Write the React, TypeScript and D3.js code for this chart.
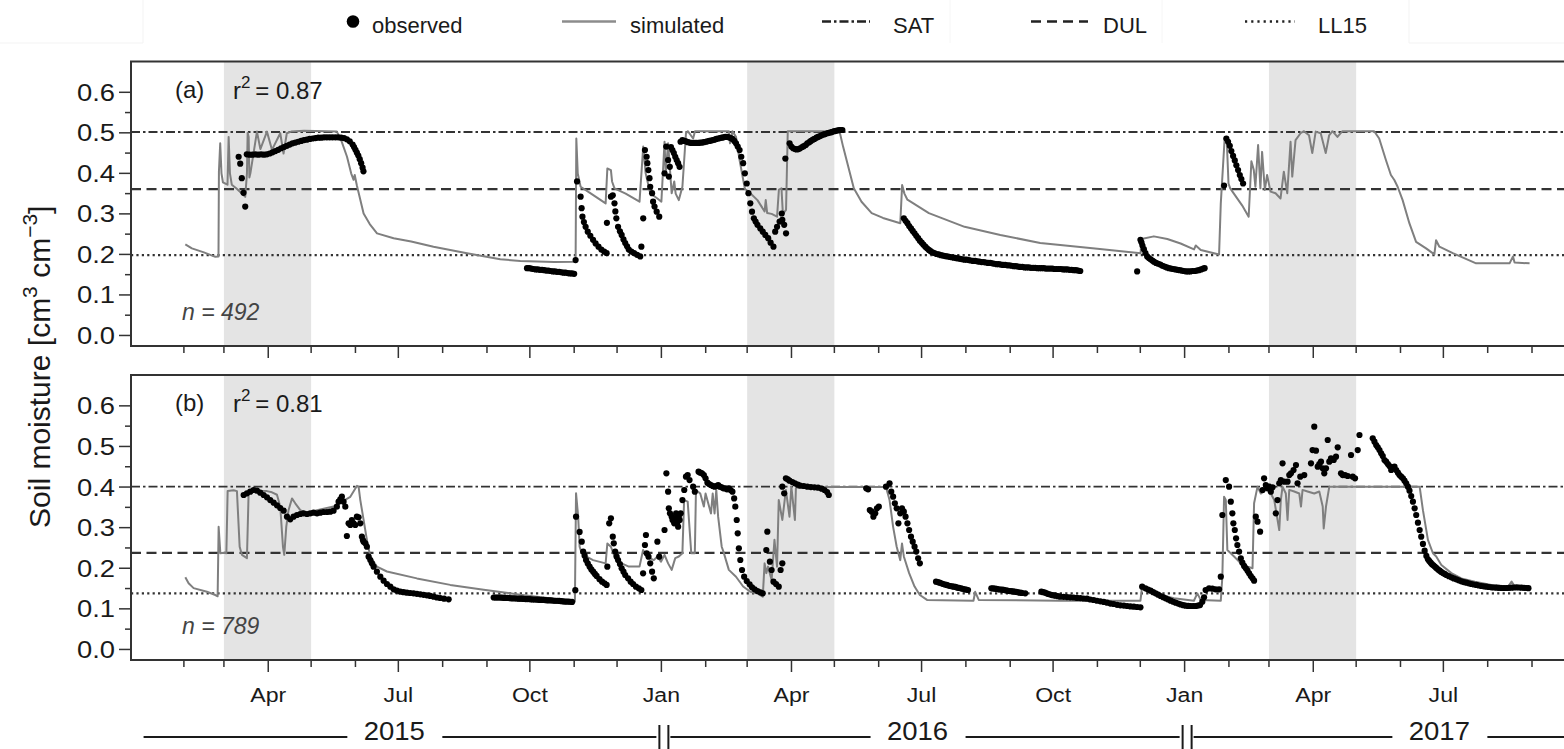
import React from 'react';
import * as d3 from 'd3';

const W = 1564;
const H = 749;
const FONT = "'Liberation Sans', Arial, Helvetica, sans-serif";
const DAY0 = Date.UTC(2015, 0, 1);
// every data "day" value = days since 2015-01-01
const toDate = (d: number) => new Date(DAY0 + d * 86400000);

const legendNames = ['observed', 'simulated', 'SAT', 'DUL', 'LL15'];
const panelLabels = ['(a)', '(b)'];
const r2Values = ['0.87', '0.81'];
const nValues = [492, 789];
const refA = [0.502, 0.361, 0.198]; // SAT, DUL, LL15
const refB = [0.401, 0.238, 0.138];
const shadeStart = ['2015-03-01', '2016-03-01', '2017-03-01'];
const shadeEnd = ['2015-05-01', '2016-05-01', '2017-05-01'];
const years = [2015, 2016, 2017];
const yMajor = [0, 0.1, 0.2, 0.3, 0.4, 0.5, 0.6];
const yMinor = [0.05, 0.15, 0.25, 0.35, 0.45, 0.55];

const simA: [number, number][] = [
  [32,0.225],[36.6,0.215],[45,0.205],[53,0.194],[55.2,0.195],[55.5,0.404],[56.4,0.474],[57.3,0.40],[58.3,0.378],[61.5,0.372],[62.3,0.49],[63.2,0.40],[64.5,0.372],[68,0.362],[73.9,0.342],[75.1,0.40],[75.6,0.50],[76.3,0.49],[76.8,0.39],[77.5,0.40],[82.1,0.503],[84.5,0.46],[89.1,0.503],[92.6,0.458],[98.4,0.499],[100.7,0.449],[103,0.499],[106,0.503],[115,0.505],[138,0.503],[141,0.482],[145.1,0.441],[148,0.40],[149.7,0.384],[150.5,0.396],[152,0.37],[156.7,0.301],[161,0.275],[166.1,0.252],[177.7,0.240],[190,0.232],[205.6,0.219],[229,0.203],[252.3,0.188],[266.3,0.184],[290,0.181],[305,0.182],
  [305.5,0.486],[306.5,0.40],[308.5,0.367],[315,0.352],[320,0.34],[326,0.326],[327.2,0.412],[329.7,0.408],[330.5,0.38],[332.2,0.363],[340,0.35],[349.7,0.33],[352.3,0.466],[354,0.40],[357.2,0.351],[362.2,0.338],[365,0.33],[367.2,0.478],[368,0.40],[369.7,0.474],[372.2,0.351],[374,0.38],[375,0.35],[377.2,0.334],[379.7,0.367],[382.2,0.499],[383.5,0.504],[387.2,0.486],[388.5,0.504],[412.2,0.504],[413,0.474],[414,0.49],[414.7,0.504],[417.2,0.49],[419.7,0.433],[423.4,0.362],[427.2,0.351],[432.2,0.334],[437.2,0.306],[438,0.334],[439,0.302],[442.1,0.30],[445.9,0.293],[447.2,0.36],[449,0.363],[450,0.30],[452.2,0.31],[453.4,0.504],[489.6,0.504],[492.1,0.466],[499.6,0.363],[505,0.33],[512.1,0.302],[520,0.29],[532.1,0.277],[533.4,0.371],[535,0.35],[537.1,0.335],[552.1,0.302],[577.1,0.268],[602.1,0.248],[630,0.228],[644,0.223],[670,0.214],[700.2,0.203],
  [700.8,0.238],[709.5,0.2445],[718.9,0.238],[728.2,0.227],[737.6,0.2125],[738.8,0.222],[742.3,0.211],[755.1,0.200],[756.3,0.326],[759,0.486],[760.5,0.48],[761.7,0.375],[762.9,0.363],[771.2,0.321],[775.8,0.293],[777.7,0.43],[779.4,0.408],[780.5,0.367],[782.4,0.47],[784,0.363],[785.2,0.453],[787.1,0.359],[788.7,0.396],[791.1,0.355],[794.6,0.351],[798.1,0.338],[800.4,0.404],[802.8,0.351],[805.1,0.478],[806.3,0.392],[808.6,0.482],[812.1,0.499],[814.5,0.504],[818,0.494],[820.3,0.45],[822.7,0.503],[826.2,0.499],[829.7,0.45],[832.1,0.494],[834.4,0.504],[837.9,0.49],[841.4,0.504],[863.6,0.504],[867.1,0.486],[871.8,0.433],[875.3,0.396],[877.7,0.3835],[880,0.367],[883.5,0.334],[888.2,0.277],[892.9,0.231],[899.9,0.215],[905.7,0.200],[906.9,0.235],[909.2,0.219],[918.6,0.203],[934.9,0.178],[958.3,0.178],[960.7,0.195],[961.8,0.18],[972.3,0.178],
];

const obsA2015: [number, number][] = [
  [69.3,0.441],[70.4,0.424],[71.5,0.388],[72.7,0.352],[73.9,0.318],
  [75,0.447],[77,0.446],[79,0.446],[81,0.447],[83,0.446],[85,0.447],[87,0.446],[89,0.447],[91,0.449],[93,0.452],[95,0.455],[97,0.458],[99,0.462],[101,0.465],[103,0.468],[105,0.471],[107,0.474],[109,0.476],[111,0.478],[113,0.48],[115,0.482],[117,0.483],[119,0.485],[121,0.486],[123,0.487],[125,0.488],[127,0.488],[129,0.489],[131,0.489],[133,0.489],[135,0.489],[137,0.489],[139,0.489],[141,0.488],[143,0.487],[145,0.484],[147,0.479],[149,0.471],[150,0.465],[151,0.458],[152,0.451],[153,0.444],[154,0.435],[155,0.425],[156,0.414],[156.6,0.405],
  [271,0.166],[272.5,0.166],[274,0.165],[275.5,0.164],[277,0.163],[278.5,0.163],[280,0.162],[281.5,0.162],[283,0.161],[284.5,0.16],[286,0.16],[287.5,0.159],[289,0.158],[290.5,0.158],[292,0.157],[293.5,0.157],[295,0.156],[296.5,0.155],[298,0.155],[299.5,0.154],[301,0.153],[302.5,0.153],[304,0.152],[305,0.186],[306,0.38],
  [308.5,0.3425],[309.2,0.314],[309.8,0.293],[310.8,0.28],[312,0.268],[313.5,0.256],[315.3,0.246],[317.2,0.236],[319,0.227],[321,0.219],[323,0.212],[325,0.207],[326.7,0.203],
  [326.9,0.278],[329.7,0.3425],[331,0.346],[332.2,0.326],[332.8,0.306],[333.5,0.289],[334.7,0.268],[336,0.257],[337.2,0.248],[338.5,0.237],[339.7,0.228],[341,0.22],[342.2,0.212],[344,0.207],[345.9,0.203],[348,0.199],[350.2,0.195],
  [351,0.219],[352.3,0.289],[353.5,0.4575],[354.7,0.441],[355.2,0.425],[355.9,0.408],[356.7,0.388],[357.2,0.367],[358.5,0.351],[359.2,0.33],[360.2,0.318],[361.7,0.3055],[363.5,0.293],
];

const obsA2016: [number, number][] = [
  [367.2,0.40],[368.4,0.466],[369.7,0.433],[370.2,0.392],[370.9,0.416],[371.7,0.465],[372.7,0.4575],[373.7,0.45],[374.7,0.441],[375.7,0.433],[376.7,0.425],[377.7,0.416],[378.4,0.478],
  [379.7,0.482],[381,0.48],[382.2,0.479],[383.5,0.477],[384.7,0.476],[386,0.475],[387.2,0.475],[388.5,0.475],[389.7,0.475],[391,0.475],[392.2,0.476],[393.5,0.476],[394.7,0.477],[396,0.478],[397.2,0.479],[398.5,0.48],[399.7,0.481],[401,0.482],[402.2,0.483],[403.5,0.485],[404.7,0.486],[406,0.487],[407.2,0.488],[408.5,0.489],[409.7,0.49],[411,0.49],[412.2,0.489],[413.5,0.487],[414.7,0.485],[416,0.48],[417.2,0.474],[418.4,0.466],
  [419.7,0.4575],[420.9,0.441],[422.2,0.425],[423.4,0.40],[424.7,0.375],[425.9,0.351],[427.2,0.326],[428.4,0.3055],[429.7,0.289],[430.9,0.281],[432.2,0.273],[434.2,0.264],[435.9,0.256],[437.7,0.248],[439.7,0.24],[441.4,0.229],[443.4,0.219],
  [444.6,0.256],[445.9,0.268],[447.7,0.281],[449.2,0.301],[449.6,0.285],[450.9,0.273],[452.2,0.252],[451.7,0.4365],
  [454.7,0.474],[455.9,0.466],[457.2,0.462],[458.5,0.46],[459.7,0.459],[461,0.46],[462.1,0.462],[463.5,0.465],[464.6,0.467],[466,0.47],[467.1,0.474],[468.5,0.477],[469.6,0.48],[471,0.483],[472.1,0.485],[473.5,0.488],[474.6,0.49],[476,0.492],[477.1,0.494],[478.5,0.496],[479.6,0.497],[481,0.499],[482.1,0.5],[483.5,0.501],[484.6,0.5025],[486,0.504],[487.1,0.505],[488.5,0.506],[489.6,0.507],[490.5,0.507],[491.6,0.507],
  [534.6,0.289],[535.8,0.283],[537.1,0.277],[538.3,0.27],[539.6,0.264],[540.8,0.258],[542.1,0.252],[543.3,0.246],[544.6,0.24],[545.8,0.234],[547.1,0.229],[548.3,0.224],[549.6,0.219],[550.8,0.215],[552.1,0.211],[553.3,0.208],[554.6,0.205],[556,0.203],[557.5,0.201],[559,0.2],[560.5,0.198],[562,0.197],[563.5,0.196],[565,0.195],[566.5,0.194],[568,0.193],[569.5,0.192],[571,0.191],[572.5,0.19],[574,0.189],[575.5,0.188],[577,0.187],[578.5,0.187],[580,0.186],[581.5,0.185],[583,0.184],[584.5,0.184],[586,0.183],[587.5,0.182],[589,0.181],[590.5,0.181],[592,0.18],[593.5,0.179],[595,0.179],[596.5,0.178],[598,0.177],[599.5,0.176],[601,0.176],[602.5,0.175],[604,0.174],[605.5,0.174],[607,0.173],[608.5,0.173],[610,0.172],[611.5,0.171],[613,0.171],[614.5,0.17],[616,0.169],[617.5,0.169],[619,0.168],[620.5,0.168],[622,0.168],[623.5,0.167],[625,0.167],[626.5,0.167],[628,0.166],[629.5,0.166],[631,0.166],[632.5,0.166],[634,0.165],[635.5,0.165],[637,0.165],[638.5,0.165],[640,0.164],[641.5,0.164],[643,0.164],[644.5,0.164],[646,0.163],[647.5,0.163],[649,0.163],[650.5,0.162],[652,0.162],[653.5,0.161],[655,0.161],[656.5,0.16],[658,0.159],
  [697.8,0.158],[700.1,0.236],[700.8,0.23],[701.5,0.222],[702.5,0.213],[703.6,0.203],[704.8,0.195],[706,0.191],[707.2,0.188],[708.4,0.185],[709.5,0.182],[711,0.179],[712.5,0.177],[714,0.175],[715.5,0.172],[717,0.17],[718.5,0.168],[720,0.166],[721.5,0.165],[723,0.164],[724.5,0.163],[726,0.162],[727.5,0.161],[729,0.16],[730.5,0.159],
];

const obsA2017: [number, number][] = [
  [732,0.158],[733.5,0.158],[735,0.158],[736.5,0.159],[738,0.159],[739.5,0.16],[741,0.161],[742.5,0.163],[744,0.165],[745,0.166],
  [758.6,0.37],[760.2,0.486],[761.4,0.478],[762.6,0.468],[763.7,0.455],[764.9,0.443],[766.1,0.432],[767.2,0.42],[768.4,0.408],[769.6,0.396],[770.7,0.386],[771.9,0.375],
];

const simB: [number, number][] = [
  [32,0.178],[34.3,0.163],[37.8,0.151],[47.1,0.142],[53,0.134],[54.6,0.131],[55.3,0.302],[56.5,0.237],[58.8,0.238],[60.7,0.237],[61.6,0.39],[65.8,0.392],[68.1,0.39],[70,0.253],[71.6,0.233],[75.1,0.225],[76.3,0.39],[79.8,0.395],[84.4,0.391],[89.1,0.39],[92.6,0.387],[96.1,0.381],[98.4,0.352],[100.3,0.253],[101.2,0.233],[102.6,0.302],[104.2,0.343],[106.6,0.372],[108.9,0.36],[112.4,0.343],[117.1,0.335],[124.1,0.343],[135.7,0.352],[147.4,0.376],[152.1,0.403],[153.2,0.401],[154.4,0.368],[156.7,0.319],[159,0.27],[161.4,0.229],[166,0.204],[173,0.192],[194,0.175],[217.3,0.159],[240.7,0.147],[266,0.135],[290,0.125],[304.5,0.118],
  [305.3,0.385],[306.8,0.327],[307.8,0.253],[309.3,0.237],[312.3,0.229],[317.2,0.22],[326,0.212],[327.2,0.261],[329.7,0.253],[332.2,0.229],[337.2,0.212],[342.2,0.204],[349.7,0.204],[352.2,0.245],[354.7,0.229],[359.7,0.22],[362.2,0.229],[364.7,0.216],[367.2,0.233],[369.7,0.212],[372.2,0.196],[374.7,0.225],[377.2,0.229],[379.7,0.237],[380.9,0.368],[383.4,0.364],[385.9,0.237],[388.4,0.237],[389.2,0.393],[392.2,0.384],[394.7,0.352],[395.9,0.384],[399.7,0.335],[400.9,0.384],[402.2,0.335],[403.4,0.393],[404.7,0.327],[407.2,0.253],[408.4,0.241],[412.2,0.196],[417.2,0.179],[422.2,0.155],[427.2,0.142],[432.2,0.138],[435.9,0.13],[437.2,0.212],[438.4,0.188],[439.6,0.204],[442.1,0.171],[444.1,0.27],[445.9,0.204],[447.1,0.368],[449.6,0.319],[452.1,0.393],[454.6,0.327],[455.9,0.401],[458.4,0.319],[459.1,0.397],[460.9,0.40],[522.1,0.40],[524.6,0.368],[527.1,0.302],[529.6,0.253],[532.1,0.22],[533.3,0.261],[534.6,0.229],[538.3,0.188],[542.1,0.155],[545.8,0.134],[550.8,0.122],[583.3,0.12],[584.5,0.142],[587,0.122],[644,0.12],[700.1,0.12],
  [701.3,0.155],[704.8,0.146],[714.2,0.134],[723.5,0.126],[737.5,0.12],[739.9,0.138],[742.2,0.122],[756.3,0.12],[757.4,0.179],[758.6,0.376],[759.8,0.368],[760.9,0.245],[765.6,0.229],[770.3,0.212],[775,0.204],[778.5,0.2],[779.6,0.36],[782,0.401],[784.3,0.384],[786.6,0.389],[789,0.401],[791.3,0.384],[793.7,0.368],[796,0.319],[797.2,0.294],[798.3,0.368],[799.5,0.401],[801.8,0.384],[803,0.319],[804.2,0.393],[807.7,0.389],[811.2,0.384],[812.4,0.352],[813.5,0.393],[817,0.389],[821.7,0.384],[825.2,0.389],[827.6,0.352],[828.3,0.298],[829.9,0.352],[832.2,0.401],[895.4,0.401],[897.7,0.343],[901.2,0.27],[904.7,0.237],[907,0.229],[910.6,0.208],[917.6,0.188],[924.6,0.175],[934,0.167],[945.6,0.159],[957.3,0.155],[959.7,0.167],[962,0.155],[971.3,0.152],
];

const obsB2015: [number, number][] = [
  [72.8,0.3804],[75.1,0.3845],[77.4,0.3886],[79.8,0.3927],[82.1,0.391],[84.4,0.3862],[86.8,0.3804],[89.1,0.3746],[91.4,0.368],[93.8,0.3615],[96.1,0.3549],[98.4,0.3484],[100.8,0.3418],[103.1,0.327],[105.4,0.3205],[107.7,0.327],[110.1,0.3312],[112.4,0.3336],[114.7,0.3353],[117.1,0.3336],[119.4,0.3353],[121.7,0.3369],[124.1,0.3353],[126.4,0.3369],[128.7,0.3386],[131.1,0.3386],[133.4,0.3394],[135.7,0.3418],[138,0.3516],[139.2,0.3639],[140.4,0.3697],[141.5,0.3762],[142.7,0.3639],[143.9,0.3516],
  [145,0.2794],[146.2,0.3106],[147.4,0.3065],[148.5,0.3188],[149.7,0.3106],[150.9,0.3065],[152,0.327],[153.2,0.3254],[154.4,0.3106],[155.5,0.2778],[156.2,0.2696],[156.7,0.2655],[157.9,0.2614],[159,0.2531],[160.2,0.2286],[161.4,0.2203],[162.5,0.2121],[163.7,0.2039],[166,0.1916],[168.4,0.1793],[170.7,0.1694],[173,0.1612],[175.4,0.1547],[177.7,0.1481],[180,0.1448],[182.4,0.1424],[184.7,0.141],[187,0.1399],[189.3,0.139],[191.7,0.1383],[194,0.137],[196.4,0.1358],[198.7,0.1345],[201,0.1333],[203.3,0.1318],[205.7,0.13],[208,0.128],[210.3,0.1267],[213,0.125],[216.2,0.1234],
  [247.7,0.128],[248.9,0.128],[250,0.128],[251.2,0.128],[252.3,0.128],[253.6,0.1275],[255,0.127],[256.2,0.127],[257.5,0.127],[258.7,0.1265],[260,0.126],[261.2,0.126],[262.5,0.126],[263.7,0.1255],[265,0.125],[266.2,0.125],[267.5,0.125],[268.7,0.1245],[270,0.124],[271.2,0.124],[272.5,0.124],[273.7,0.1235],[275,0.123],[276.2,0.123],[277.5,0.123],[278.7,0.1225],[280,0.122],[281.2,0.122],[282.5,0.122],[283.7,0.1215],[285,0.121],[286.2,0.121],[287.5,0.121],[288.7,0.1205],[290,0.12],[291.2,0.12],[292.5,0.12],[293.7,0.1195],[295,0.119],[296.2,0.1185],[297.5,0.118],[298.7,0.118],[300,0.118],[301.2,0.1175],[302.5,0.117],
  [304.8,0.146],[305.3,0.327],[307.8,0.2895],[309.3,0.2655],[310.3,0.241],[311.3,0.231],[312.3,0.2203],[313.5,0.212],[314.8,0.2039],[316,0.197],[317.3,0.1916],[318.5,0.186],[319.7,0.181],[321.7,0.173],[323.5,0.167],[325.2,0.163],[326.7,0.159],
  [327.2,0.2039],[328.5,0.3106],[329.7,0.323],[331,0.2778],[331.7,0.2614],[332.7,0.241],[333.7,0.2286],[334.7,0.2203],[336,0.2105],[337.2,0.2],[338.5,0.1916],[339.7,0.1834],[341.7,0.1752],[343.5,0.167],[345.2,0.1612],[347.2,0.1547],[349.2,0.1506],[351,0.1464],
  [352.2,0.1875],[353.5,0.2573],[354.2,0.2819],[354.7,0.2368],[356,0.2286],[357.2,0.2121],[358.5,0.1916],[359.7,0.1752],[362.2,0.2655],[363.5,0.2286],
];

const obsB2016: [number, number][] = [
  [367.2,0.2942],[368.5,0.4338],[369.7,0.3886],[370.2,0.3475],[371,0.3353],[372.2,0.327],[372.8,0.3188],[373.5,0.3188],[374,0.3106],[374.7,0.3229],[375.3,0.3353],[376,0.3106],[376.7,0.3024],[377.2,0.327],[377.8,0.3188],[378.5,0.3353],[379.7,0.368],[381,0.3927],[382.2,0.4255],[383.4,0.4296],[384.7,0.4173],[387.2,0.4009],[388.4,0.3886],
  [391,0.4378],[392.2,0.4354],[393.4,0.4338],[394.7,0.4296],[395.9,0.4214],[397.2,0.4107],[398.4,0.4075],[399.7,0.405],[400.9,0.4026],[402.2,0.4009],[403.4,0.4026],[404.7,0.405],[405.9,0.4009],[407.2,0.3993],[408.4,0.3968],[409.7,0.3968],[410.9,0.3943],[412.2,0.3968],[413.4,0.3927],[414.7,0.3886],
  [415.9,0.3721],[416.7,0.3516],[417.7,0.3188],[418.4,0.286],[419.2,0.249],[420.2,0.2203],[421.4,0.1957],[422.9,0.1793],[424.7,0.1686],[426.7,0.1604],[428.4,0.153],[430.2,0.1481],[432.2,0.144],[434.2,0.1407],[435.9,0.1383],
  [438.4,0.245],[439.1,0.29],[440.9,0.2163],[442.1,0.1957],[443.4,0.167],[445.2,0.1612],[447.1,0.1547],[448.4,0.1957],[449.6,0.2121],
  [449.6,0.4009],[450.9,0.3845],[452.1,0.4214],[453.4,0.419],[454.6,0.4157],[456.6,0.4124],[458.4,0.4091],[460.4,0.4058],[462.1,0.4034],[464.6,0.4026],[467.1,0.4009],[469.6,0.4],[472.1,0.3993],[474.6,0.3985],[477.1,0.396],[479.1,0.3927],[480.9,0.3878],[482.1,0.3804],
  [508.3,0.3968],[509.6,0.3943],[510.8,0.3435],[512.1,0.3394],[513.3,0.327],[514.6,0.3353],[515.8,0.3475],[517.1,0.3516],
  [522.1,0.4009],[524.6,0.4091],[525.8,0.3886],[527.1,0.3762],[528.3,0.3598],[529.6,0.3475],[530.8,0.3106],[532.1,0.3353],[533.3,0.3475],[534.6,0.3394],[535.8,0.327],[537.1,0.3106],[538.3,0.2942],[539.6,0.2778],[540.8,0.2655],[542.1,0.2531],[543.3,0.241],[544.6,0.2245],[545.8,0.2121],
  [557.1,0.167],[558.3,0.166],[559.6,0.1645],[560.8,0.163],[562.1,0.1612],[563.3,0.16],[564.5,0.1588],[565.7,0.1575],[567,0.1563],[568.2,0.1555],[569.5,0.1547],[570.7,0.154],[572,0.1522],[573.2,0.1515],[574.5,0.1506],[575.7,0.1495],[577,0.1481],[578.2,0.1475],[579.5,0.1464],
  [595.8,0.1506],[597,0.1502],[598.3,0.1498],[599.5,0.149],[600.8,0.1481],[602,0.1477],[603.3,0.1473],[604.5,0.1465],[605.8,0.1457],[607,0.1449],[608.3,0.144],[609.5,0.1436],[610.8,0.1432],[612,0.1424],[613.3,0.1416],[614.5,0.1408],[615.8,0.1399],[617,0.1393],[619.5,0.1383],
  [630.8,0.1424],[632,0.141],[633.3,0.14],[634.5,0.1383],[635.7,0.1366],[637,0.1353],[638.2,0.134],[639.5,0.1333],[640.7,0.1325],[642.3,0.1312],[644,0.13],[646.4,0.1295],[648.7,0.129],[651,0.1285],[653.4,0.128],[655.7,0.127],[658.1,0.1265],[660.4,0.1255],[662.7,0.125],[665,0.123],[667.4,0.1218],[669.7,0.12],[672.1,0.1185],[674.5,0.117],[676.8,0.1152],[679.1,0.113],[681.4,0.1119],[683.8,0.11],[686.1,0.1086],[688.5,0.108],[690.8,0.107],[693.1,0.106],[695.5,0.1053],[697.8,0.1045],[700.1,0.1037],
  [701.3,0.1547],[703.6,0.1506],[705.4,0.1475],[707.2,0.1448],[709,0.141],[710.7,0.1383],[712.5,0.135],[714.2,0.1317],[716,0.1288],[717.7,0.1259],[719.5,0.123],[721.2,0.1201],[723,0.1175],[724.7,0.1152],[726.5,0.113],[728.2,0.111],[730,0.109],
];

const obsB2017: [number, number][] = [
  [731.7,0.1078],[733.5,0.1072],[735.2,0.107],[737,0.107],[738.7,0.107],[740.3,0.108],[741.8,0.1094],[743.4,0.1176],[744.6,0.1284],[745.7,0.1464],[748.1,0.1506],[750.4,0.1498],[752.7,0.1481],[755.1,0.1481],
  [756.3,0.1793],[757.4,0.3312],[759.8,0.4173],[762.1,0.4009],[763.3,0.3639],[764.4,0.3353],[765.1,0.3106],[766.1,0.2942],[767,0.2737],[767.9,0.2573],[769.1,0.241],[770.3,0.2245],[771.4,0.2138],[772.6,0.2056],[773.8,0.2],[775,0.1941],[776.1,0.1875],[777.3,0.1809],[778.5,0.1752],[779.6,0.1694],
  [780.8,0.327],[782,0.3147],[783.8,0.2901],[785.5,0.3927],[786.6,0.4214],[787.8,0.405],[789,0.3968],[790.2,0.4009],[791.3,0.3886],[792.5,0.3993],
  [794.8,0.3353],[796,0.368],[797.2,0.4091],[798.3,0.4173],[799.5,0.4584],[800.7,0.4132],[803,0.4132],[804.2,0.4296],[805.4,0.4338],[807.2,0.442],[808.9,0.4543],[810,0.4091],[811.9,0.4255],[814.7,0.4296],[819.4,0.4584],[820.5,0.4912],[821.7,0.5487],[822.9,0.4896],[824.1,0.4502],[825.2,0.4568],[826.4,0.4625],[827.6,0.4461],[828.7,0.4338],[829.9,0.4461],[831.1,0.5159],[832.2,0.4625],[833.4,0.4707],[835.3,0.4666],[836.9,0.4748],[838.1,0.4978],[840.4,0.4338],[841.6,0.4296],[843.2,0.4296],[845.1,0.4272],[847.4,0.4789],[848.6,0.4255],[850.2,0.4214],[852.1,0.4912],[853.3,0.5282],
  [862.6,0.52],[863.8,0.5118],[865,0.5036],[866.1,0.4978],[867.3,0.4912],[868.5,0.4831],[869.6,0.4765],[870.8,0.4666],[872,0.4625],[873.2,0.4568],[874.3,0.4519],[875.5,0.442],[876.7,0.4486],[877.8,0.4502],[879,0.442],[880.2,0.4354],[881.3,0.4296],[882.5,0.4255],[883.7,0.4214],[884.8,0.4157],[886,0.4091],[887.2,0.4009],[888.3,0.3911],[889.5,0.3779],[890.7,0.3639],[891.9,0.3475],[893,0.3312],[894.2,0.3122],[895.4,0.2942],[896.5,0.2778],[897.7,0.2598],[898.9,0.2434],[900.1,0.2303],[901.2,0.222],[902.1,0.218],[903.1,0.2138],[904,0.21],[905,0.2072],[906,0.204],[907,0.2007],[908.2,0.197],[909.4,0.1941],[910.5,0.191],[911.7,0.1883],[912.9,0.186],[914.1,0.1834],[915.8,0.1805],[917.6,0.1777],[919.3,0.175],[921.1,0.1727],[922.8,0.1703],[924.6,0.1678],[926.3,0.166],[928.1,0.1645],[929.8,0.1628],[931.6,0.1612],[933.3,0.16],[935.1,0.1588],[936.8,0.1575],[938.6,0.1563],[940.3,0.1555],[942.1,0.1547],[943.8,0.1538],[945.6,0.153],[947.3,0.1526],[949.1,0.1522],[950.8,0.1518],[952.6,0.1514],[954.4,0.1514],[956.2,0.1514],[957.9,0.1518],[959.7,0.1522],[961.4,0.1526],[963.2,0.153],[964.9,0.1526],[966.7,0.1522],[968.5,0.1518],[970.2,0.1514],[971.5,0.151],
];

// ---------- layout ----------
const PLOT_L = 131;
const x = d3
  .scaleUtc()
  .domain([new Date(Date.UTC(2014, 11, 26)), new Date(Date.UTC(2017, 9, 9))])
  .range([PLOT_L, PLOT_L + 1018 * 1.4296]);
const PLOT_R = PLOT_L + 1018 * 1.4296;

const monthTicks = d3.utcMonth.range(new Date(Date.UTC(2015, 1, 1)), new Date(Date.UTC(2017, 8, 2)));
const isMajor = (d: Date) => d.getUTCMonth() % 3 === 0;
const fmtMonth = d3.utcFormat('%b');

const refDash = ['9,3,2.5,3', '10,5.5', '2.2,3.2'];
const refWidth = [1.8, 2.2, 2.2];

const panels = [
  { top: 61.5, bottom: 346, sim: simA, obs: [...obsA2015, ...obsA2016, ...obsA2017], refs: refA, label: panelLabels[0], r2: r2Values[0], n: nValues[0] },
  { top: 375, bottom: 660, sim: simB, obs: [...obsB2015, ...obsB2016, ...obsB2017], refs: refB, label: panelLabels[1], r2: r2Values[1], n: nValues[1] },
];

function Panel({ p, idx }: { p: any; idx: number }) {
  const y = d3.scaleLinear().domain([-0.026, 0.676]).range([p.bottom, p.top]);
  const line = d3
    .line<[number, number]>()
    .x((d) => x(toDate(d[0])))
    .y((d) => y(d[1]));
  const clipId = `plotclip${idx}`;
  return (
    <g>
      <defs>
        <clipPath id={clipId}>
          <rect x={PLOT_L} y={p.top} width={PLOT_R - PLOT_L} height={p.bottom - p.top} />
        </clipPath>
      </defs>
      <g clipPath={`url(#${clipId})`}>
        {shadeStart.map((s, i) => {
          const x0 = x(new Date(s + 'T00:00:00Z'));
          const x1 = x(new Date(shadeEnd[i] + 'T00:00:00Z'));
          return <rect key={s} x={x0} y={p.top} width={x1 - x0} height={p.bottom - p.top} fill="#e4e4e4" />;
        })}
        {p.refs.map((v: number, i: number) => (
          <line
            key={i}
            x1={PLOT_L}
            x2={PLOT_R}
            y1={y(v)}
            y2={y(v)}
            stroke="#333"
            strokeWidth={refWidth[i]}
            strokeDasharray={refDash[i]}
          />
        ))}
        <path d={line(p.sim) || ''} fill="none" stroke="#7f7f7f" strokeWidth={2} strokeLinejoin="round" />
        {p.obs.map((d: [number, number], i: number) => (
          <circle key={i} cx={x(toDate(d[0]))} cy={y(d[1])} r={3.1} fill="#000" />
        ))}
      </g>
      <rect x={PLOT_L} y={p.top} width={PLOT_R - PLOT_L} height={p.bottom - p.top} fill="none" stroke="#333" strokeWidth={2} />
      {yMajor.map((v) => (
        <g key={v}>
          <line x1={PLOT_L - 12} x2={PLOT_L} y1={y(v)} y2={y(v)} stroke="#333" strokeWidth={1.5} />
          <text
            transform={`translate(${PLOT_L - 16},${y(v) + 8.5}) scale(1.14,1)`}
            textAnchor="end"
            fontSize={24}
            fontFamily={FONT}
            fill="#1a1a1a"
          >
            {v.toFixed(1)}
          </text>
        </g>
      ))}
      {yMinor.map((v) => (
        <line key={v} x1={PLOT_L - 6} x2={PLOT_L} y1={y(v)} y2={y(v)} stroke="#333" strokeWidth={1.5} />
      ))}
      {monthTicks.map((m) => (
        <line
          key={m.getTime()}
          x1={x(m)}
          x2={x(m)}
          y1={p.bottom}
          y2={p.bottom + (isMajor(m) ? 12 : 7)}
          stroke="#333"
          strokeWidth={1.5}
        />
      ))}
      <text x={175} y={p.top + 36} fontSize={24} fontFamily={FONT} fill="#1a1a1a">
        {p.label}
      </text>
      <text x={233} y={p.top + 37} fontSize={24} fontFamily={FONT} fill="#1a1a1a">
        r
        <tspan dy={-11} fontSize={17}>2</tspan>
        <tspan dy={11}>{'\u2009= '}</tspan>
        {p.r2}
      </text>
      <text x={182} y={p.bottom - 26} fontSize={23} fontStyle="italic" fontFamily={FONT} fill="#444">
        n = {p.n}
      </text>
    </g>
  );
}

export default function App() {
  const legendY = 21.5;
  const textY = 33;
  const lastBottom = panels[1].bottom;
  return (
    <svg
      width={W}
      height={H}
      viewBox={`0 0 ${W} ${H}`}
      style={{ position: 'absolute', left: 0, top: 0, background: '#fff' }}
    >
      <rect x={0} y={0} width={W} height={H} fill="#fff" />
      {/* faint legend frame remnants */}
      <line x1={0} x2={143} y1={43} y2={43} stroke="#f3f3f3" strokeWidth={1} />
      <line x1={143} x2={143} y1={0} y2={43} stroke="#f3f3f3" strokeWidth={1} />
      <line x1={1409} x2={1564} y1={43} y2={43} stroke="#f3f3f3" strokeWidth={1} />
      <line x1={1409} x2={1409} y1={0} y2={43} stroke="#f3f3f3" strokeWidth={1} />
      <line x1={1162} x2={1162} y1={0} y2={43} stroke="#f6f6f6" strokeWidth={1} />
      <line x1={950} x2={950} y1={0} y2={43} stroke="#f6f6f6" strokeWidth={1} />

      {/* legend */}
      <g fontFamily={FONT} fontSize={22} fill="#1a1a1a">
        <circle cx={353} cy={legendY} r={6.3} fill="#000" />
        <text x={372} y={textY}>{legendNames[0]}</text>
        <line x1={562} x2={616} y1={legendY} y2={legendY} stroke="#8c8c8c" strokeWidth={2.6} />
        <text x={630} y={textY}>{legendNames[1]}</text>
        <line x1={822} x2={870} y1={legendY} y2={legendY} stroke="#222" strokeWidth={2.4} strokeDasharray={'9,3,2.5,3'} />
        <text x={893} y={textY}>{legendNames[2]}</text>
        <line x1={1031} x2={1088} y1={legendY} y2={legendY} stroke="#222" strokeWidth={2.6} strokeDasharray={'10,6'} />
        <text x={1103} y={textY}>{legendNames[3]}</text>
        <line x1={1245} x2={1295} y1={legendY} y2={legendY} stroke="#222" strokeWidth={2.4} strokeDasharray={'2.2,4'} />
        <text x={1318} y={textY}>{legendNames[4]}</text>
      </g>

      {panels.map((p, i) => (
        <Panel key={i} p={p} idx={i} />
      ))}

      {/* y axis title */}
      <text
        transform={`translate(50,${(panels[0].top + lastBottom) / 2 + 6}) rotate(-90)`}
        textAnchor="middle"
        fontFamily={FONT}
        fontSize={30}
        fill="#1a1a1a"
      >
        Soil moisture [cm
        <tspan dy={-13} fontSize={21}>3</tspan>
        <tspan dy={13}>{' cm'}</tspan>
        <tspan dy={-13} fontSize={21}>{'\u22123'}</tspan>
        <tspan dy={13}>]</tspan>
      </text>

      {/* month labels */}
      {monthTicks.filter(isMajor).map((m) => (
        <text
          key={m.getTime()}
          transform={`translate(${x(m)},702) scale(1.1,1)`}
          textAnchor="middle"
          fontFamily={FONT}
          fontSize={21}
          fill="#1a1a1a"
        >
          {fmtMonth(m)}
        </text>
      ))}

      {/* year band */}
      {years.map((yr) => {
        const xs = x(new Date(Date.UTC(yr, 0, 1)));
        const xe = x(new Date(Date.UTC(yr + 1, 0, 1)));
        const xm = x(new Date(Date.UTC(yr, 6, 1)));
        const start = yr === years[0] ? xs + 4 : xs + 9;
        return (
          <g key={yr}>
            <line x1={start} x2={xm - 51} y1={737} y2={737} stroke="#1a1a1a" strokeWidth={2} />
            <line x1={xm + 44} x2={xe - 5} y1={737} y2={737} stroke="#1a1a1a" strokeWidth={2} />
            <text
              transform={`translate(${xm - 4},740) scale(1.1,1)`}
              textAnchor="middle"
              fontFamily={FONT}
              fontSize={25}
              fill="#1a1a1a"
            >
              {yr}
            </text>
            {yr !== years[0] && (
              <g>
                <line x1={xs - 2} x2={xs - 2} y1={725} y2={749} stroke="#1a1a1a" strokeWidth={2} />
                <line x1={xs + 7} x2={xs + 7} y1={725} y2={749} stroke="#1a1a1a" strokeWidth={2} />
              </g>
            )}
          </g>
        );
      })}
    </svg>
  );
}
